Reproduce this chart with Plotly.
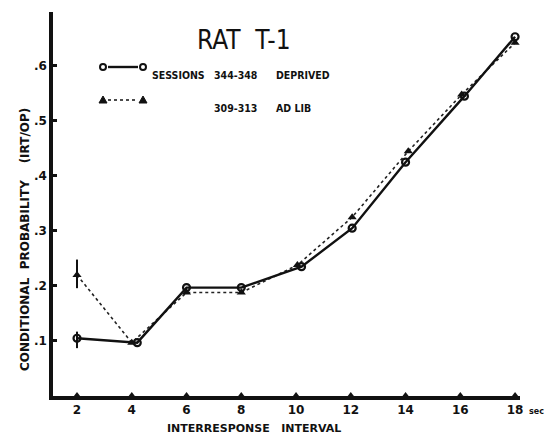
import plotly.graph_objects as go

# ---- data ----
x_ticks = [2, 4, 6, 8, 10, 12, 14, 16, 18]
x_tick_labels = ["2", "4", "6", "8", "10", "12", "14", "16", "18"]
y_ticks = [0.1, 0.2, 0.3, 0.4, 0.5, 0.6]
y_tick_labels = [".1", ".2", ".3", ".4", ".5", ".6"]

deprived_x = [2, 4.2, 6, 8, 10.2, 12.05, 14, 16.15, 18]
deprived_y = [0.105, 0.097, 0.197, 0.197, 0.235, 0.305, 0.425, 0.545, 0.653]
deprived_err_plus = [0.012, 0, 0, 0, 0, 0, 0, 0, 0]
deprived_err_minus = [0.018, 0, 0, 0, 0, 0, 0, 0, 0]

adlib_x = [2, 4, 6, 8, 10.05, 12.05, 14.1, 16.05, 18]
adlib_y = [0.22, 0.097, 0.188, 0.188, 0.238, 0.325, 0.445, 0.548, 0.642]
adlib_err_plus = [0.028, 0, 0, 0, 0, 0, 0, 0, 0]
adlib_err_minus = [0.024, 0, 0, 0, 0, 0, 0, 0, 0]

# ---- layout geometry (pixels) ----
W, H = 548, 446
L, R, T, B = 53, 28, 12, 50
PW, PH = W - L - R, H - T - B


def px(xp):
    return (xp - L) / PW


def py(yp):
    return (H - B - yp) / PH


FONT_B = "DejaVu Sans"
FONT_N = "Liberation Sans Narrow, DejaVu Sans Condensed, Arial Narrow"

fig = go.Figure()

fig.add_trace(go.Scatter(
    x=adlib_x, y=adlib_y, mode="lines+markers",
    line=dict(color="#222", width=1.6, dash="dot"),
    marker=dict(symbol="triangle-up", size=8, color="#111"),
    error_y=dict(type="data", symmetric=False, array=adlib_err_plus,
                 arrayminus=adlib_err_minus, color="#111", thickness=2, width=0),
    showlegend=False, cliponaxis=False,
))
fig.add_trace(go.Scatter(
    x=deprived_x, y=deprived_y, mode="lines+markers",
    line=dict(color="#111", width=2.4),
    marker=dict(symbol="circle-open", size=7, color="#111", line=dict(width=2.2)),
    error_y=dict(type="data", symmetric=False, array=deprived_err_plus,
                 arrayminus=deprived_err_minus, color="#111", thickness=2, width=0),
    showlegend=False, cliponaxis=False,
))
# triangle tick marks on the x axis
fig.add_trace(go.Scatter(
    x=x_ticks, y=[0] * len(x_ticks), mode="markers",
    marker=dict(symbol="triangle-up", size=8, color="#111"),
    showlegend=False, cliponaxis=False, hoverinfo="skip",
))

annotations = [
    dict(text="RAT  T-1", x=px(244), y=py(23), xref="paper", yref="paper",
         showarrow=False, font=dict(family=FONT_N, size=26, color="#111")),
    dict(text="<b>CONDITIONAL  PROBABILITY    (IRT/OP)</b>", x=px(16), y=py(240),
         xref="paper", yref="paper", textangle=-90, showarrow=False,
         font=dict(family=FONT_B, size=12, color="#111")),
    dict(text="<b>INTERRESPONSE   INTERVAL</b>", x=px(254), y=py(437),
         xref="paper", yref="paper", showarrow=False,
         font=dict(family=FONT_B, size=11, color="#111")),
    dict(text="<b>sec</b>", x=18, y=py(418), xref="x", yref="paper", xshift=21,
         showarrow=False, font=dict(family=FONT_B, size=8, color="#111")),
]

# legend (drawn manually: marker — marker  + text)
leg_rows = [
    (67, "circle", "solid", 2.4, ["SESSIONS", "344-348", "DEPRIVED"]),
    (100, "triangle", "dot", 1.6, ["", "309-313", "AD LIB"]),
]
text_x = [150, 212, 274]
shapes = []
for ypix, sym, dash, lw, texts in leg_rows:
    shapes.append(dict(type="line", xref="paper", yref="paper", x0=px(108), x1=px(138),
                       y0=py(ypix), y1=py(ypix), line=dict(color="#111", width=lw, dash=dash)))
    for xs in (103, 143):
        if sym == "circle":
            shapes.append(dict(type="circle", xref="paper", yref="paper",
                               x0=px(xs - 3), x1=px(xs + 3), y0=py(ypix + 3), y1=py(ypix - 3),
                               line=dict(color="#111", width=2), fillcolor="white"))
        else:
            shapes.append(dict(type="path", xref="paper", yref="paper",
                               path=f"M {px(xs - 4)} {py(ypix + 3)} L {px(xs + 4)} {py(ypix + 3)} "
                                    f"L {px(xs)} {py(ypix - 4)} Z",
                               line=dict(color="#111", width=1), fillcolor="#111"))
    for tx, t in zip(text_x, texts):
        if t:
            annotations.append(dict(text=f"<b>{t}</b>", x=px(tx), y=py(ypix), xref="paper",
                                    yref="paper", xanchor="left", showarrow=False,
                                    font=dict(family=FONT_N, size=10.5, color="#111")))

fig.update_layout(
    width=W, height=H,
    margin=dict(l=L, r=R, t=T, b=B, pad=0),
    paper_bgcolor="white", plot_bgcolor="white",
    annotations=annotations, shapes=shapes,
    xaxis=dict(range=[1.123, 18.18], showgrid=False, zeroline=False,
               tickvals=x_ticks, ticktext=[f"<b>{t}</b>" for t in x_tick_labels],
               ticks="", showline=True, linecolor="#111", linewidth=3.5,
               tickfont=dict(family=FONT_B, size=12, color="#111")),
    yaxis=dict(range=[0, 0.698], showgrid=False, zeroline=False,
               tickvals=y_ticks, ticktext=[f"<b>{t}</b>" for t in y_tick_labels],
               ticks="inside", ticklen=4, tickwidth=2.5, tickcolor="#111",
               showline=True, linecolor="#111", linewidth=3.5,
               tickfont=dict(family=FONT_B, size=12, color="#111")),
)

fig.write_html("out.html")
